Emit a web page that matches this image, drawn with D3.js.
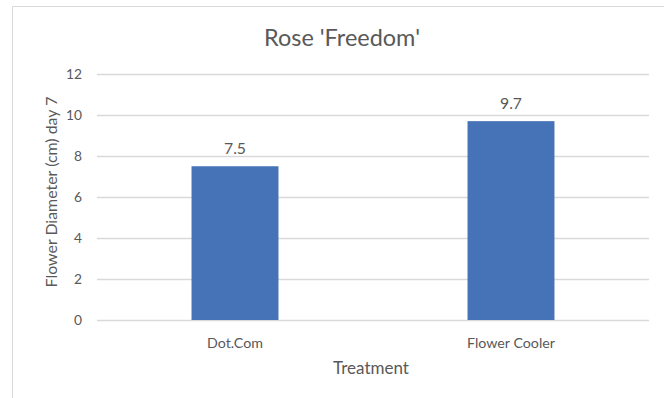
<!DOCTYPE html>
<html>
<head>
<meta charset="utf-8">
<style>
  body { margin: 0; background: #fff; }
  svg text { font-family: Lato, "Liberation Sans", sans-serif; fill: #595959; }
</style>
<title>Rose 'Freedom'</title>
</head>
<body>
<svg id="chart" width="664" height="398"></svg>
<script src="https://cdn.jsdelivr.net/npm/d3@7"></script>
<script>
// chart data
var treatments = ["Dot.Com", "Flower Cooler"];
var diameters = [7.5, 9.7];
var yTicks = [0, 2, 4, 6, 8, 10, 12];

var svg = d3.select("#chart");
var plotLeft = 97, plotRight = 649, plotTop = 74, plotBottom = 320;

// scale a text group's font so that one reference text gets the wanted width
function fitWidth(sel, refNode, target) {
  var size = 14;
  sel.style("font-size", size + "px");
  var w = refNode.getComputedTextLength();
  sel.style("font-size", (size * target / w).toFixed(2) + "px");
}

// chart frame (cropped on right and bottom)
svg.append("path")
   .attr("d", "M12.5,398 V6.5 H664")
   .attr("fill", "none")
   .attr("stroke", "#d9d9d9");

var x = d3.scaleBand().domain(treatments).range([plotLeft, plotRight]).padding(0);
var y = d3.scaleLinear().domain([0, 12]).range([plotBottom, plotTop]);
var barW = x.bandwidth() * 0.315;

// gridlines
svg.append("g").selectAll("line")
   .data(yTicks)
   .enter().append("line")
     .attr("x1", plotLeft).attr("x2", plotRight)
     .attr("y1", function(d) { return Math.round(y(d)) + 0.5; })
     .attr("y2", function(d) { return Math.round(y(d)) + 0.5; })
     .attr("stroke", "#d9d9d9")
     .attr("stroke-width", 1.3);

// y tick labels
var tickText = svg.append("g").selectAll("text")
   .data(yTicks)
   .enter().append("text")
     .attr("x", 82)
     .attr("y", function(d) { return y(d) + 5; })
     .attr("text-anchor", "end")
     .text(function(d) { return d; });
fitWidth(tickText, tickText.nodes()[6], 16);

// bars
svg.append("g").selectAll("rect")
   .data(diameters)
   .enter().append("rect")
     .attr("x", function(d, i) { return x(treatments[i]) + x.bandwidth() / 2 - barW / 2; })
     .attr("width", barW)
     .attr("y", function(d) { return y(d); })
     .attr("height", function(d) { return y(0) - y(d); })
     .attr("fill", "#4672b8");

// value labels
var valText = svg.append("g").selectAll("text")
   .data(diameters)
   .enter().append("text")
     .attr("x", function(d, i) { return x(treatments[i]) + x.bandwidth() / 2; })
     .attr("y", function(d) { return y(d) - 12; })
     .attr("text-anchor", "middle")
     .text(function(d) { return d.toFixed(1); });
fitWidth(valText, valText.nodes()[0], 22);

// category labels
var catText = svg.append("g").selectAll("text")
   .data(treatments)
   .enter().append("text")
     .attr("x", function(d) { return x(d) + x.bandwidth() / 2; })
     .attr("y", 348)
     .attr("text-anchor", "middle")
     .text(function(d) { return d; });
fitWidth(catText, catText.nodes()[0], 56);

// titles
var title = svg.append("text")
   .attr("x", 342).attr("y", 46)
   .attr("text-anchor", "middle")
   .text("Rose 'Freedom'");
fitWidth(title, title.node(), 156);

var xTitle = svg.append("text")
   .attr("x", 371).attr("y", 374)
   .attr("text-anchor", "middle")
   .text("Treatment");
fitWidth(xTitle, xTitle.node(), 76);

var yTitle = svg.append("text")
   .attr("transform", "translate(57,192) rotate(-90)")
   .attr("text-anchor", "middle")
   .text("Flower Diameter (cm) day 7");
fitWidth(yTitle, yTitle.node(), 191);
</script>
</body>
</html>
